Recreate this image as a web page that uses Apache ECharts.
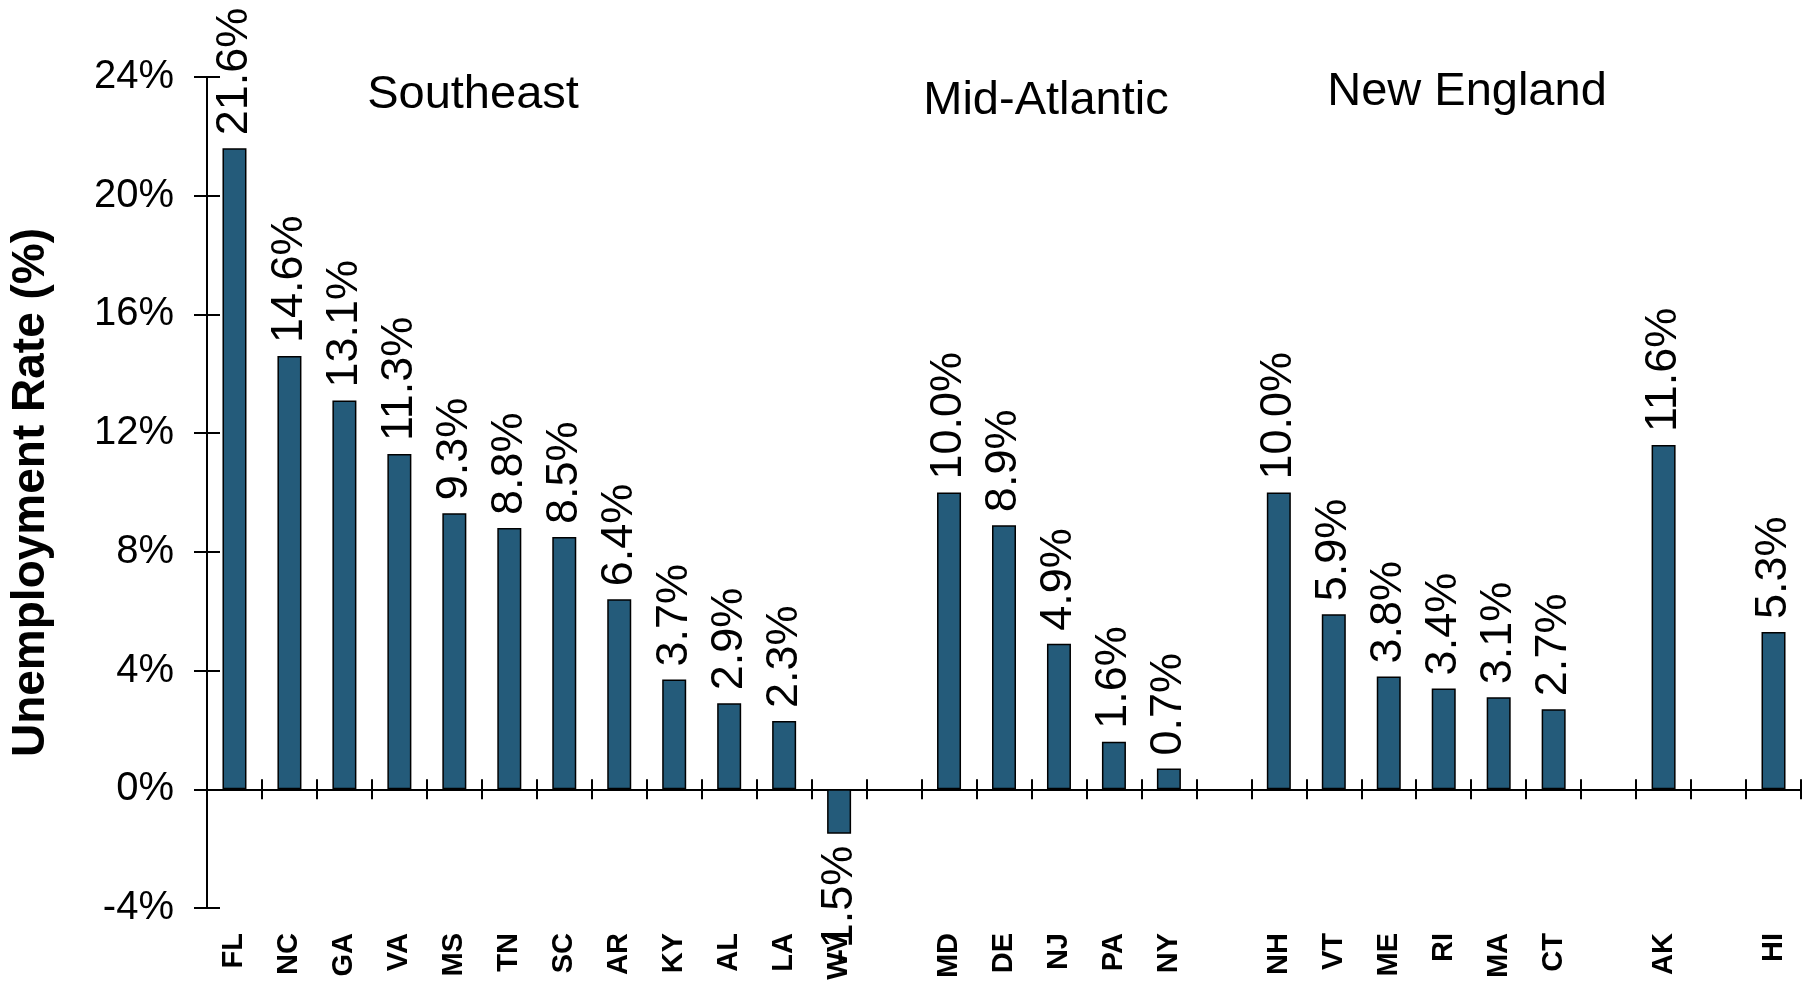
<!DOCTYPE html>
<html>
<head>
<meta charset="utf-8">
<script src="https://cdn.jsdelivr.net/npm/echarts@6/dist/echarts.min.js"></script>
<style>
  html, body { margin: 0; padding: 0; background: #fff; }
  #chart { width: 1808px; height: 984px; }
</style>
</head>
<body>
<div id="chart"></div>
<script>
// blank strings are the empty slots between regions
const states = [
  'FL', 'NC', 'GA', 'VA', 'MS', 'TN', 'SC', 'AR', 'KY', 'AL', 'LA', 'WV', '',
  'MD', 'DE', 'NJ', 'PA', 'NY', '',
  'NH', 'VT', 'ME', 'RI', 'MA', 'CT', '',
  'AK', '', 'HI'
];
const rates = [
  21.6, 14.6, 13.1, 11.3, 9.3, 8.8, 8.5, 6.4, 3.7, 2.9, 2.3, -1.5, null,
  10.0, 8.9, 4.9, 1.6, 0.7, null,
  10.0, 5.9, 3.8, 3.4, 3.1, 2.7, null,
  11.6, null, 5.3
];
const yTicks = [-4, 0, 4, 8, 12, 16, 20, 24];
const regions = ['Southeast', 'Mid-Atlantic', 'New England'];

const FONT = '"Liberation Sans", Arial, sans-serif';
const barColor = '#245b7a';

const chart = echarts.init(document.getElementById('chart'));

const pctLabel = (p) => p.value.toFixed(1) + '%';

const barData = rates.map((v) => {
  if (v === null) return null;
  if (v < 0) {
    return {
      value: v,
      label: { position: 'bottom', align: 'right', distance: 12 }
    };
  }
  return v;
});

const yAxisBase = {
  type: 'value',
  min: yTicks[0],
  max: yTicks[yTicks.length - 1],
  interval: 4,
  splitLine: { show: false }
};

const tickStyle = { color: '#000', width: 2 };

chart.setOption({
  animation: false,
  grid: {
    left: 207,
    right: 7,
    top: 77,
    bottom: 76,
    outerBoundsMode: 'none',
    containLabel: false
  },
  title: [
    { text: regions[0], left: 473, top: 72, textAlign: 'center' },
    { text: regions[1], left: 1046, top: 78, textAlign: 'center' },
    { text: regions[2], left: 1467, top: 69, textAlign: 'center' }
  ].map((t) => ({
    ...t,
    padding: 0,
    textStyle: { fontFamily: FONT, fontSize: 47, fontWeight: 'normal', color: '#000' }
  })),
  xAxis: [
    {
      // zero line with ticks pointing down
      type: 'category',
      data: states,
      position: 'bottom',
      axisLine: { onZero: true, lineStyle: { color: '#000', width: 2 } },
      axisTick: { show: true, length: 10, lineStyle: tickStyle },
      axisLabel: { show: false }
    },
    {
      // same ticks pointing up
      type: 'category',
      data: states,
      position: 'bottom',
      axisLine: { show: false, onZero: true },
      axisTick: { show: true, inside: true, length: 10, lineStyle: tickStyle },
      axisLabel: { show: false }
    },
    {
      // state names under the plot
      type: 'category',
      data: states,
      position: 'bottom',
      axisLine: { show: false, onZero: false },
      axisTick: { show: false },
      axisLabel: {
        interval: 0,
        rotate: 90,
        margin: 25,
        color: '#000',
        fontFamily: FONT,
        fontWeight: 'bold',
        fontSize: 29
      }
    }
  ],
  yAxis: [
    {
      ...yAxisBase,
      position: 'left',
      name: 'Unemployment Rate (%)',
      nameLocation: 'middle',
      nameGap: 153,
      nameTextStyle: { fontFamily: FONT, fontSize: 46, fontWeight: 'bold', color: '#000' },
      axisLine: { show: true, lineStyle: { color: '#000', width: 2 } },
      axisTick: { show: true, length: 13, lineStyle: tickStyle },
      axisLabel: {
        margin: 33,
        padding: [8, 0, 0, 0],
        color: '#000',
        fontFamily: FONT,
        fontSize: 40,
        formatter: (v) => v + '%'
      }
    },
    {
      ...yAxisBase,
      position: 'left',
      axisLine: { show: false },
      axisTick: { show: true, inside: true, length: 13, lineStyle: tickStyle },
      axisLabel: { show: false }
    }
  ],
  series: [
    {
      type: 'bar',
      data: barData,
      xAxisIndex: 0,
      yAxisIndex: 0,
      barWidth: 24,
      itemStyle: { color: barColor, borderColor: '#000', borderWidth: 1.5 },
      label: {
        show: true,
        position: 'top',
        rotate: 90,
        align: 'left',
        verticalAlign: 'middle',
        distance: 13,
        color: '#000',
        fontFamily: FONT,
        fontSize: 45,
        formatter: pctLabel
      }
    }
  ]
});
</script>
</body>
</html>
